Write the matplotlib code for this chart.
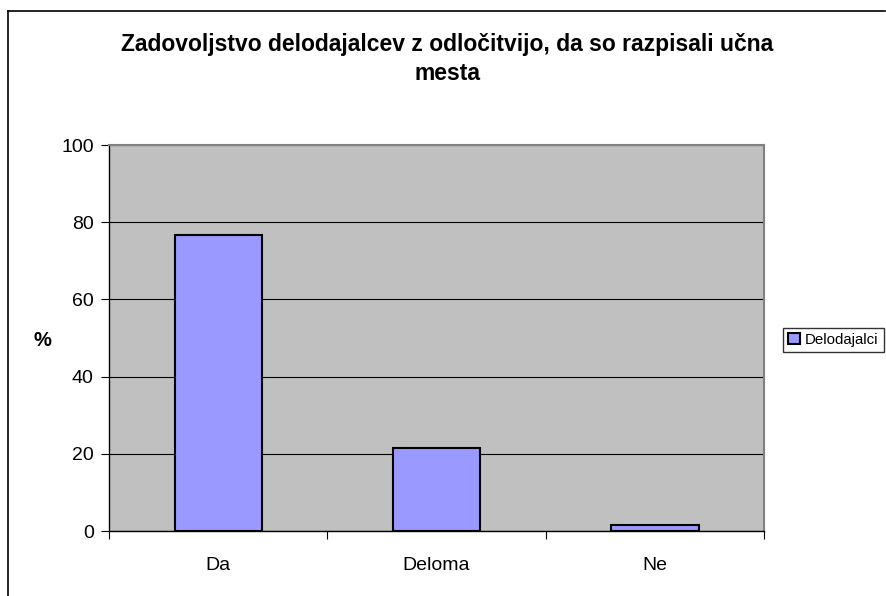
import matplotlib.pyplot as plt
from matplotlib.lines import Line2D

categories = ['Da', 'Deloma', 'Ne']
values = [76.8, 21.6, 1.5]
series_name = 'Delodajalci'
title = 'Zadovoljstvo delodajalcev z odločitvijo, da so razpisali učna\nmesta'
y_ticks = [0, 20, 40, 60, 80, 100]

plt.rcParams['font.family'] = ['Liberation Sans', 'DejaVu Sans']

fig = plt.figure(figsize=(8.86, 5.96), dpi=100)
W, H = 886, 596
ax = fig.add_axes([109 / W, 1 - 531 / H, (764 - 109) / W, (531 - 145) / H])

# outer chart border (left and top)
fig.add_artist(Line2D([8 / W, 8 / W], [0, 1 - 11 / H], color='black', lw=1.2))
fig.add_artist(Line2D([8 / W, 885 / W], [1 - 11 / H, 1 - 11 / H], color='black', lw=1.2))

ax.set_facecolor('#c0c0c0')
x = range(len(categories))
ax.bar(x, values, width=0.4, color='#9999ff', edgecolor='black', linewidth=1.5,
       label=series_name, zorder=3)

ax.set_xlim(-0.5, 2.5)
ax.set_ylim(0, 100)
ax.set_yticks(y_ticks)
ax.yaxis.grid(True, color='black', linewidth=0.8, zorder=1)
# tick marks between categories, labels centred under the bars
ax.set_xticks([-0.5, 0.5, 1.5, 2.5])
ax.set_xticklabels([])
ax.set_xticks(list(x), minor=True)
ax.set_xticklabels(categories, minor=True, fontsize=14)
ax.tick_params(axis='x', which='minor', length=0, pad=19)
ax.tick_params(axis='x', which='major', length=6, direction='out', color='black')
ax.tick_params(axis='y', length=6, direction='out', labelsize=14, pad=5)

for side in ['top', 'right']:
    ax.spines[side].set_color('#808080')
    ax.spines[side].set_linewidth(1.5)
for side in ['left', 'bottom']:
    ax.spines[side].set_color('black')
    ax.spines[side].set_linewidth(1.0)

fig.text(42 / W, 1 - 340 / H, '%', ha='center', va='center', fontsize=14.5,
         fontweight='bold')

fig.text(447 / W, 1 - 59 / H, title, ha='center', va='center', fontsize=16.5,
         fontweight='bold', linespacing=1.35)

leg = fig.legend(loc='center left', bbox_to_anchor=(783 / W, 1 - 340 / H), fontsize=10.8,
                 frameon=True, fancybox=False, edgecolor='black', handlelength=0.75,
                 handleheight=0.75, handletextpad=0.35, borderpad=0.35, borderaxespad=0)
leg.get_frame().set_linewidth(1.0)

fig.savefig('out.png', dpi=100)
